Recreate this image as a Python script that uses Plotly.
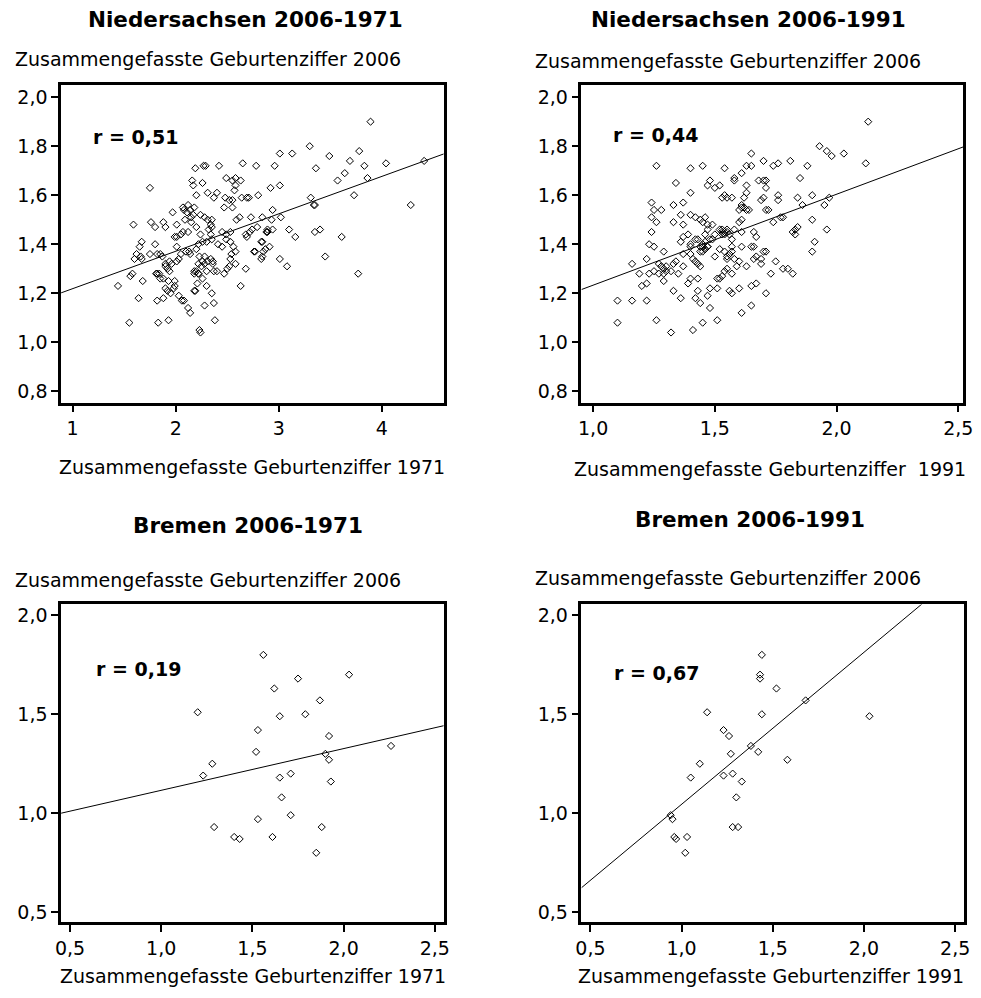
import plotly.graph_objects as go
import numpy as np

# ---------------- data ----------------
# Niedersachsen: TFR 1971 vs TFR 2006
nds_a_tfr1971 = [3.89,3.30,3.78,3.01,3.13,3.49,4.04,3.69,3.83,3.64,3.57,3.36,3.86,4.41,4.28,3.73,3.31,3.34,3.35,3.40,3.35,3.61,3.45,3.77,
                 2.65,2.78,2.96,2.42,2.19,2.27,2.29,2.16,2.26,2.17,2.49,2.55,2.58,2.63,2.58,2.57,2.64,2.71,2.69,2.80,2.92,3.01,1.75,
                 2.20,2.31,2.40,2.37,2.48,2.52,2.55,2.47,2.55,2.62,2.59,2.73,2.84,2.93,3.02,2.94,2.79,2.89,2.88,2.74,2.72,2.68,2.69,2.84,2.83,2.94,2.89,2.91,2.85,2.87,2.84,2.83,2.76,2.77,3.01,3.08,3.10,3.16,
                 1.59,1.76,1.88,1.90,1.97,2.01,1.99,2.08,2.11,2.14,2.17,2.18,2.07,2.12,2.15,2.09,2.15,2.07,2.12,2.24,2.28,2.31,2.35,2.34,2.35,2.32,2.34,2.20,2.24,2.26,2.30,2.35,2.41,2.45,2.49,2.53,2.45,2.49,2.53,2.56,2.58,2.54,2.53,2.52,2.50,2.47,2.58,2.68,2.63,
                 2.22,2.20,2.23,2.28,2.26,2.22,2.28,2.31,2.34,2.36,2.36,2.37,2.25,2.20,2.18,2.22,2.26,2.30,2.40,
                 1.67,1.65,1.62,1.60,1.66,1.67,1.75,1.80,1.82,1.85,1.87,1.90,1.94,1.90,1.92,1.96,2.01,2.03,2.05,2.10,2.13,2.14,2.01,2.01,2.05,
                 1.56,1.58,1.68,1.64,1.44,1.55,1.82,1.84,1.85,1.81,1.88,1.94,1.93,1.99,1.99,1.90,1.92,1.95,1.98,2.03,2.08,2.06,2.12,2.14,2.19,2.18,2.21,2.22,2.18,2.30,2.35,2.28,2.37,2.38,2.23,2.24,1.82,1.88,1.83,1.93,1.80]
nds_a_tfr2006 = [1.90,1.80,1.78,1.77,1.77,1.76,1.73,1.74,1.72,1.69,1.66,1.71,1.67,1.74,1.56,1.60,1.59,1.56,1.56,1.46,1.45,1.43,1.35,1.28,
                 1.73,1.72,1.72,1.72,1.71,1.72,1.72,1.66,1.65,1.64,1.67,1.66,1.67,1.66,1.64,1.62,1.59,1.59,1.59,1.60,1.63,1.64,1.63,
                 1.60,1.61,1.61,1.59,1.59,1.58,1.58,1.55,1.55,1.51,1.50,1.51,1.51,1.50,1.51,1.54,1.47,1.46,1.45,1.46,1.45,1.44,1.43,1.41,1.41,1.46,1.45,1.39,1.37,1.38,1.35,1.34,1.37,1.37,1.34,1.31,1.46,1.43,
                 1.48,1.49,1.49,1.47,1.53,1.48,1.43,1.54,1.53,1.54,1.52,1.55,1.55,1.56,1.51,1.50,1.49,1.45,1.45,1.52,1.51,1.50,1.50,1.48,1.47,1.46,1.44,1.47,1.44,1.41,1.41,1.42,1.40,1.39,1.42,1.45,1.45,1.44,1.41,1.39,1.37,1.36,1.34,1.31,1.30,1.28,1.32,1.30,1.23,
                 1.40,1.38,1.35,1.35,1.33,1.32,1.32,1.33,1.34,1.33,1.32,1.29,1.31,1.29,1.28,1.28,1.26,1.29,1.29,
                 1.41,1.39,1.36,1.34,1.35,1.34,1.36,1.40,1.36,1.36,1.35,1.32,1.33,1.31,1.30,1.32,1.33,1.34,1.36,1.37,1.37,1.36,1.39,1.43,1.44,
                 1.27,1.28,1.25,1.18,1.23,1.08,1.28,1.28,1.26,1.28,1.26,1.29,1.25,1.25,1.23,1.22,1.21,1.20,1.22,1.19,1.17,1.17,1.14,1.12,1.21,1.21,1.24,1.28,1.29,1.23,1.20,1.15,1.16,1.09,1.05,1.04,1.17,1.18,1.08,1.09,1.47]

# Niedersachsen: TFR 1991 vs TFR 2006
nds_b_tfr1991 = [2.13,2.12,1.93,1.96,1.98,2.03,1.88,1.81,1.76,1.74,1.70,1.65,1.65,1.63,1.54,1.45,1.40,1.26,1.85,1.70,
                 1.71,1.68,1.71,1.61,1.58,1.58,1.48,1.47,1.52,1.50,1.34,1.40,1.54,1.55,1.57,1.53,1.63,1.63,1.62,1.61,
                 1.62,1.60,1.63,1.69,1.70,1.71,1.72,1.74,1.76,1.76,1.78,1.77,1.84,1.86,1.90,1.95,1.97,1.90,1.96,1.91,
                 1.90,1.84,1.83,1.82,1.83,1.24,1.25,1.24,1.26,1.24,1.23,1.25,1.28,1.29,1.33,1.37,1.36,1.33,1.37,1.40,
                 1.42,1.44,1.45,1.46,1.47,1.49,1.52,1.53,1.54,1.55,1.56,1.58,1.61,1.57,1.54,1.55,1.56,1.57,1.58,1.60,
                 1.55,1.52,1.50,1.47,1.46,1.44,1.45,1.46,1.43,1.42,1.40,1.39,1.37,1.36,1.40,1.40,1.41,1.44,1.42,1.43,
                 1.37,1.37,1.34,1.33,1.32,1.30,1.29,1.29,1.30,1.28,1.27,1.29,1.27,1.25,1.22,1.23,1.19,1.22,1.20,1.16,
                 1.10,1.16,1.22,1.10,1.26,1.32,1.41,1.45,1.51,1.61,1.65,1.71,1.67,1.65,1.60,1.57,1.56,1.51,1.48,1.47,
                 1.48,1.44,1.42,1.43,1.43,1.40,1.39,1.36,1.33,1.35,1.51,1.53,1.52,1.54,1.55,1.57,1.59,1.63,1.66,1.69,
                 1.69,1.70,1.71,1.67,1.66,1.67,1.66,1.61,1.61,1.65,1.75,1.73,1.78,1.80,1.82,1.60,1.61,1.64,1.57,1.53,
                 1.49,1.50,1.46,1.47,1.48,1.45,1.45,1.46,1.44,1.47,1.53,1.55,1.54]
nds_b_tfr2006 = [1.90,1.73,1.80,1.78,1.76,1.77,1.72,1.74,1.73,1.72,1.74,1.77,1.72,1.72,1.71,1.72,1.71,1.72,1.67,1.66,
                 1.63,1.66,1.66,1.69,1.67,1.66,1.66,1.64,1.64,1.63,1.65,1.61,1.60,1.59,1.59,1.59,1.64,1.61,1.59,1.56,
                 1.55,1.54,1.54,1.58,1.59,1.54,1.54,1.49,1.60,1.58,1.51,1.51,1.59,1.56,1.60,1.56,1.59,1.50,1.46,1.41,
                 1.37,1.47,1.46,1.45,1.44,1.57,1.54,1.51,1.49,1.45,1.40,1.39,1.54,1.37,1.56,1.57,1.52,1.49,1.48,1.52,
                 1.51,1.50,1.49,1.51,1.48,1.48,1.46,1.44,1.45,1.46,1.44,1.46,1.45,1.39,1.37,1.35,1.36,1.37,1.34,1.33,
                 1.34,1.38,1.35,1.39,1.41,1.39,1.37,1.38,1.42,1.42,1.40,1.44,1.43,1.41,1.39,1.36,1.34,1.31,1.33,1.32,
                 1.31,1.36,1.33,1.32,1.29,1.31,1.30,1.28,1.29,1.31,1.32,1.25,1.28,1.29,1.34,1.28,1.28,1.24,1.23,1.32,
                 1.17,1.17,1.17,1.08,1.09,1.04,1.05,1.08,1.09,1.12,1.15,1.20,1.24,1.23,1.22,1.20,1.21,1.22,1.22,1.19,
                 1.14,1.16,1.18,1.21,1.26,1.26,1.24,1.18,1.21,1.28,1.26,1.27,1.26,1.29,1.30,1.28,1.31,1.31,1.34,1.34,
                 1.32,1.37,1.37,1.35,1.39,1.43,1.45,1.50,1.39,1.39,1.33,1.28,1.30,1.30,1.28,1.49,1.55,1.54,1.42,1.45,
                 1.42,1.44,1.44,1.46,1.42,1.40,1.39,1.38,1.37,1.39,1.46,1.45,1.44]

# Bremen (same districts in both panels)
bremen_tfr2006 = [1.80,1.70,1.68,1.63,1.57,1.51,1.49,1.50,1.42,1.39,1.31,1.34,1.30,1.27,
                  1.25,1.19,1.20,1.18,1.16,1.08,0.97,0.99,0.93,0.93,0.88,0.87,0.88,0.80]
bremen_tfr1971 = [1.56,2.03,1.75,1.62,1.87,1.20,1.65,1.79,1.53,1.92,1.52,2.26,1.90,1.92,
                  1.28,1.23,1.71,1.65,1.93,1.66,1.53,1.71,1.29,1.88,1.40,1.43,1.61,1.85]
bremen_tfr1991 = [1.44,1.43,1.43,1.52,1.68,1.14,2.03,1.44,1.23,1.26,1.42,1.38,1.27,1.58,
                  1.10,1.23,1.28,1.05,1.33,1.30,0.95,0.94,1.28,1.31,0.96,0.97,1.03,1.02]

# regression lines (intercept, slope) and correlation labels
fit_intercept = [1.066, 0.862, 0.905, 0.277]
fit_slope = [0.1527, 0.371, 0.2107, 0.768]
r_labels = ["r = 0,51", "r = 0,44", "r = 0,19", "r = 0,67"]

panel_titles = ["Niedersachsen 2006-1971", "Niedersachsen 2006-1991",
                "Bremen 2006-1971", "Bremen 2006-1991"]
y_titles = ["Zusammengefasste Geburtenziffer 2006"] * 4
x_titles = ["Zusammengefasste Geburtenziffer 1971",
            "Zusammengefasste Geburtenziffer\u00a0 1991",
            "Zusammengefasste Geburtenziffer 1971",
            "Zusammengefasste Geburtenziffer 1991"]

x_ticks = [[1, 2, 3, 4], [1.0, 1.5, 2.0, 2.5], [0.5, 1.0, 1.5, 2.0, 2.5], [0.5, 1.0, 1.5, 2.0, 2.5]]
y_ticks = [[0.8, 1.0, 1.2, 1.4, 1.6, 1.8, 2.0], [0.8, 1.0, 1.2, 1.4, 1.6, 1.8, 2.0],
           [0.5, 1.0, 1.5, 2.0], [0.5, 1.0, 1.5, 2.0]]

# ---------------- layout geometry ----------------
W, H = 981, 998
FONT = "DejaVu Sans"


def fx(p):
    return p / W


def fy(p):
    return 1 - p / H


panels = [
    dict(x=nds_a_tfr1971, y=nds_a_tfr2006, xdom=(56, 445), ydom=(85, 403),
         xr=[0.888, 4.60], yr=[0.754, 2.05], xfmt=".0f", yfmt=".1f"),
    dict(x=nds_b_tfr1991, y=nds_b_tfr2006, xdom=(585, 973), ydom=(85, 403),
         xr=[0.952, 2.52], yr=[0.754, 2.05], xfmt=".1f", yfmt=".1f"),
    dict(x=bremen_tfr1971, y=bremen_tfr2006, xdom=(56, 445), ydom=(605, 923),
         xr=[0.451, 2.549], yr=[0.45, 2.055], xfmt=".1f", yfmt=".1f"),
    dict(x=bremen_tfr1991, y=bremen_tfr2006, xdom=(585, 974), ydom=(605, 923),
         xr=[0.451, 2.549], yr=[0.45, 2.055], xfmt=".1f", yfmt=".1f"),
]

# text centres (pixels)
title_pos = [(243, 20), (755, 20), (246, 526), (756, 520)]
ytitle_pos = [(205, 59), (734, 61), (205, 581), (734, 579)]
xtitle_pos = [(250, 467), (777, 469), (251, 977), (778, 977)]
r_pos = [(132, 137), (660, 135), (135, 670), (661, 674)]

fig = go.Figure()
layout = dict(width=W, height=H, margin=dict(l=0, r=0, t=0, b=0),
              paper_bgcolor="white", plot_bgcolor="white", showlegend=False,
              separators=",.", font=dict(family=FONT, color="black"))
annotations = []


def ann(text, pos, size):
    return dict(text=text, x=fx(pos[0]), y=fy(pos[1]), xref="paper", yref="paper",
                xanchor="center", yanchor="middle", showarrow=False,
                font=dict(family=FONT, size=size, color="black"))


for i, p in enumerate(panels):
    k = "" if i == 0 else str(i + 1)
    xa, ya = "x" + k, "y" + k
    fig.add_trace(go.Scatter(
        x=p["x"], y=p["y"], mode="markers", xaxis=xa, yaxis=ya,
        marker=dict(symbol="diamond-open", size=5.5, color="black",
                    line=dict(width=1, color="black")),
        hoverinfo="x+y"))
    lx = np.array(p["xr"])
    ly = fit_intercept[i] + fit_slope[i] * lx
    fig.add_trace(go.Scatter(x=lx, y=ly, mode="lines", xaxis=xa, yaxis=ya,
                             line=dict(color="black", width=1), hoverinfo="skip"))

    axis_common = dict(showline=True, linewidth=2.5, linecolor="black", mirror=True,
                       ticks="outside", ticklen=7, tickwidth=1.5, tickcolor="black",
                       showgrid=False, zeroline=False,
                       tickfont=dict(family=FONT, size=19, color="black"))
    layout["xaxis" + k] = dict(axis_common, domain=[fx(p["xdom"][0]), fx(p["xdom"][1])],
                               range=p["xr"], tickvals=x_ticks[i], tickformat=p["xfmt"],
                               anchor=ya)
    layout["yaxis" + k] = dict(axis_common, domain=[fy(p["ydom"][1]), fy(p["ydom"][0])],
                               range=p["yr"], tickvals=y_ticks[i], tickformat=p["yfmt"],
                               anchor=xa)

    annotations.append(ann("<b>" + panel_titles[i] + "</b>", title_pos[i], 21.5))
    annotations.append(ann(y_titles[i], ytitle_pos[i], 19))
    annotations.append(ann(x_titles[i], xtitle_pos[i], 19))
    annotations.append(ann("<b>" + r_labels[i] + "</b>", r_pos[i], 19))

layout["annotations"] = annotations
fig.update_layout(**layout)
fig.write_html("out.html")
